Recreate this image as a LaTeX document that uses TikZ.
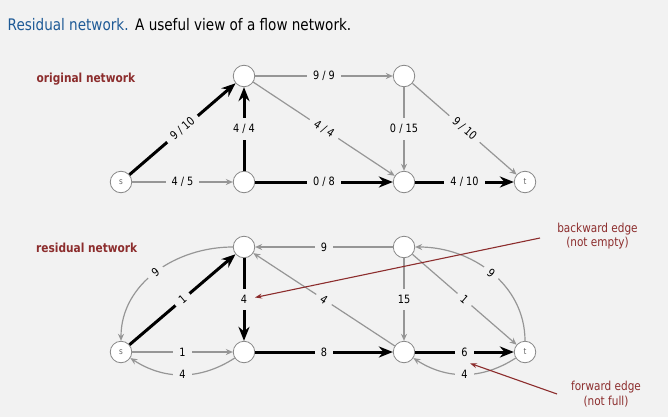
\documentclass[tikz,border=0pt]{standalone}
\usepackage{fontspec}
\setmainfont[FakeStretch=0.85]{DejaVu Sans}
\usetikzlibrary{arrows.meta}
\definecolor{bg}{RGB}{242,242,242}
\definecolor{ttlblue}{RGB}{30,90,150}
\definecolor{dred}{RGB}{140,45,45}
\definecolor{edgegray}{RGB}{150,150,150}
\definecolor{nodegray}{RGB}{135,135,135}
\begin{document}
\begin{tikzpicture}[x=1bp,y=1bp,
  vtx/.style={circle,draw=nodegray,line width=0.8bp,fill=white,minimum size=21.5bp,inner sep=0pt,font=\fontsize{8.5}{8.5}\selectfont,text=black!60},
  ge/.style={draw=edgegray,line width=1.2bp,-{Stealth[length=7bp,width=6bp]}},
  be/.style={draw=black,line width=3bp,-{Stealth[length=14bp,width=11bp]}},
  lbl/.style={fill=bg,inner xsep=6bp,inner ysep=6bp,font=\fontsize{11.5}{12}\selectfont,text=black},
  sect/.style={anchor=base west,inner sep=0pt,text=dred,font=\bfseries\fontsize{12.5}{14}\selectfont},
  note/.style={anchor=base,inner sep=0pt,text=dred,font=\fontsize{12.4}{14}\selectfont},
  notearrow/.style={draw=dred,line width=1.1bp,-{Stealth[length=7bp,width=5bp]}},
  ttl/.style={anchor=base west,inner sep=0pt,font=\fontsize{16}{18}\selectfont}
]
\useasboundingbox (0,0) rectangle (668,417);
\fill[bg] (0,0) rectangle (668,417);

% title
\node[ttl,text=ttlblue] (title1) at (7.5,387) {Residual network.};
\node[ttl] (title2) at (135,387) {A useful view of a flow network.};

% section labels
\node[sect] (orig) at (36.5,335) {original network};
\node[sect] (resid) at (36,164.3) {residual network};

% original network
\node[vtx] (s1) at (121,235) {s};
\node[vtx] (A1) at (244,341) {};
\node[vtx] (B1) at (404,341) {};
\node[vtx] (C1) at (244,235) {};
\node[vtx] (D1) at (404,235) {};
\node[vtx] (t1) at (525,235) {t};

\draw[be] (s1) -- node[lbl,sloped] {9 / 10} (A1);
\draw[ge] (s1) -- node[lbl] {4 / 5} (C1);
\draw[be] (C1) -- node[lbl] {4 / 4} (A1);
\draw[ge] (A1) -- node[lbl] {9 / 9} (B1);
\draw[ge] (A1) -- node[lbl,sloped] {4 / 4} (D1);
\draw[ge] (B1) -- node[lbl] {0 / 15} (D1);
\draw[be] (C1) -- node[lbl] {0 / 8} (D1);
\draw[ge] (B1) -- node[lbl,sloped] {9 / 10} (t1);
\draw[be] (D1) -- node[lbl] {4 / 10} (t1);

% residual network
\node[vtx] (s2) at (121,65) {s};
\node[vtx] (A2) at (244,170) {};
\node[vtx] (B2) at (404,170) {};
\node[vtx] (C2) at (244,65) {};
\node[vtx] (D2) at (404,65) {};
\node[vtx] (t2) at (525,65) {t};

\draw[ge] (A2) to[out=180,in=90] node[lbl,sloped] {9} (s2);
\draw[be] (s2) -- node[lbl,sloped] {1} (A2);
\draw[ge] (s2) -- node[lbl] {1} (C2);
\draw[ge] (C2) to[bend left=33] node[lbl] {4} (s2);
\draw[be] (A2) -- node[lbl] (lblAC) {4} (C2);
\draw[ge] (B2) -- node[lbl] {9} (A2);
\draw[ge] (D2) -- node[lbl,sloped] {4} (A2);
\draw[ge] (B2) -- node[lbl] {15} (D2);
\draw[be] (C2) -- node[lbl] {8} (D2);
\draw[be] (D2) -- node[lbl] (lblDt) {6} (t2);
\draw[ge] (t2) to[bend left=33] node[lbl] {4} (D2);
\draw[ge] (B2) -- node[lbl,sloped] {1} (t2);
\draw[ge] (t2) to[out=90,in=0] node[lbl,sloped] {9} (B2);

% annotations
\node[note] (bw1) at (597.5,184.3) {backward edge};
\node[note] (bw2) at (597.5,170.3) {(not empty)};
\node[note] (fw1) at (606,27) {forward edge};
\node[note] (fw2) at (606,12) {(not full)};
\coordinate (bwstart) at (540,179);
\coordinate (bwtip) at (255,119.5);
\coordinate (fwstart) at (557,23);
\coordinate (fwtip) at (470,53.7);
\draw[notearrow] (bwstart) -- (bwtip);
\draw[notearrow] (fwstart) -- (fwtip);
\end{tikzpicture}
\end{document}
